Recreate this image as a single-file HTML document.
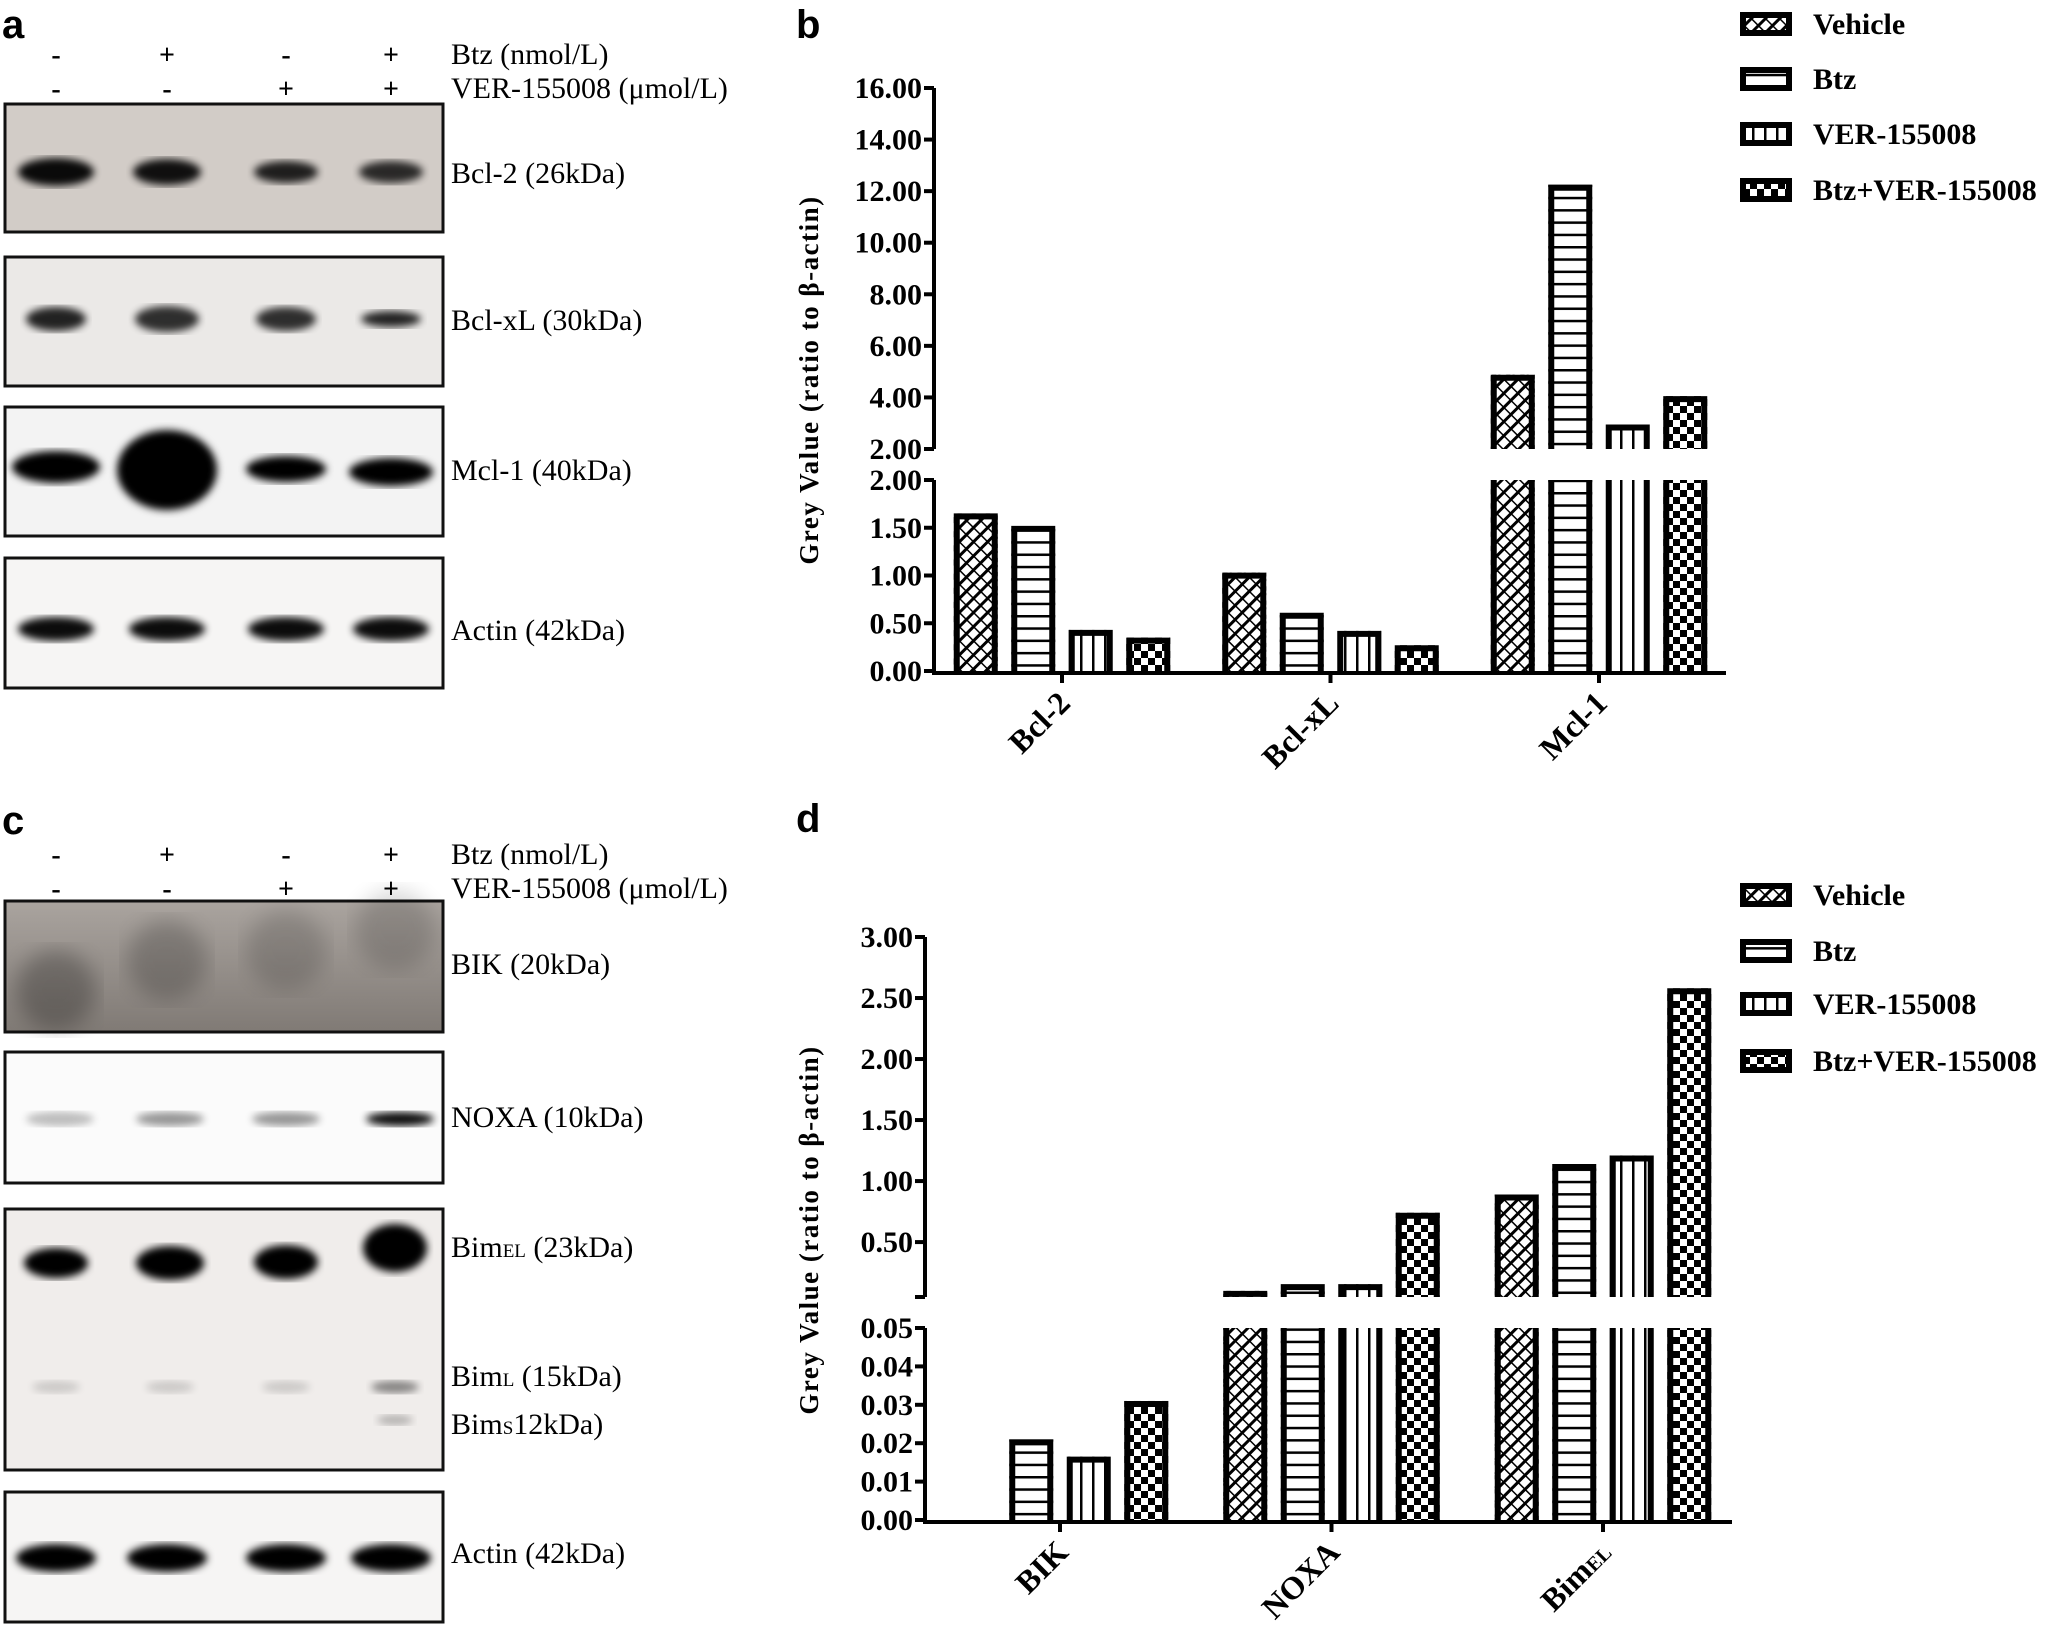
<!DOCTYPE html>
<html><head><meta charset="utf-8"><style>
html,body{margin:0;padding:0;background:#fff;}
svg{display:block;}
.ser{font-family:"Liberation Serif",serif;}
.sans{font-family:"Liberation Sans",sans-serif;}
</style></head><body>
<svg id="root" width="2053" height="1632" viewBox="0 0 2053 1632" xmlns="http://www.w3.org/2000/svg">
<defs>
<pattern id="pVeh" patternUnits="userSpaceOnUse" width="10" height="10" patternTransform="rotate(45)">
<rect width="10" height="10" fill="#fff"/><rect x="0" y="0" width="3" height="10" fill="#000"/><rect x="0" y="4" width="10" height="1.5" fill="#000"/></pattern>
<pattern id="pBtz" patternUnits="userSpaceOnUse" width="12" height="12.3"><rect width="12" height="12.3" fill="#fff"/><rect y="0" width="12" height="2.5" fill="#000"/></pattern>
<pattern id="pVer" patternUnits="userSpaceOnUse" width="12" height="12"><rect width="12" height="12" fill="#fff"/><rect x="0" width="2.5" height="12" fill="#000"/></pattern>
<pattern id="pCmb" patternUnits="userSpaceOnUse" width="14" height="14"><rect width="14" height="14" fill="#fff"/><rect width="7" height="7" fill="#000"/><rect x="7" y="7" width="7" height="7" fill="#000"/></pattern>
<filter id="blur3"><feGaussianBlur stdDeviation="4"/></filter>
<filter id="blur8"><feGaussianBlur stdDeviation="10"/></filter>
<linearGradient id="gBik" x1="0" y1="0" x2="0" y2="1"><stop offset="0" stop-color="#aaa49f"/><stop offset="1" stop-color="#807a75"/></linearGradient>
</defs>

<text class="sans" x="2" y="38" font-size="40" font-weight="bold">a</text>
<text class="sans" x="796" y="38" font-size="40" font-weight="bold">b</text>
<text class="sans" x="2" y="834" font-size="40" font-weight="bold">c</text>
<text class="sans" x="796" y="832" font-size="40" font-weight="bold">d</text>

<g id="blots"></g>
<g id="chartB"></g>
<g id="chartD"></g>
</svg>
<script>
const NS="http://www.w3.org/2000/svg";
// ---- Chart b data ----
const catsB=["Bcl-2","Bcl-xL","Mcl-1"];
const vehB=[1.65,1.03,4.88];
const btzB=[1.52,0.61,12.25];
const verB=[0.43,0.42,2.95];
const cmbB=[0.35,0.27,4.05];
const upTicksB=["16.00","14.00","12.00","10.00","8.00","6.00","4.00","2.00"];
const loTicksB=["0.00","0.50","1.00","1.50","2.00"];
// ---- Chart d data ----
const catsD=["BIK","NOXA","Bim"];
const vehD=[0,0.10,0.89];
const btzD=[0.021,0.155,1.14];
const verD=[0.0165,0.155,1.21];
const cmbD=[0.031,0.74,2.58];
const upTicksD=["3.00","2.50","2.00","1.50","1.00","0.50"];
const loTicksD=["0.00","0.01","0.02","0.03","0.04","0.05"];
const seriesNames=["Vehicle","Btz","VER-155008","Btz+VER-155008"];
const pats=["url(#pVeh)","url(#pBtz)","url(#pVer)","url(#pCmb)"];

function el(tag,attrs,parent){const e=document.createElementNS(NS,tag);for(const k in attrs)e.setAttribute(k,attrs[k]);parent.appendChild(e);return e;}

function drawChart(g,cfg,cats,series){
  const ax=cfg.axisX;
  const yLo=v=>cfg.loY0+(cfg.loY1-cfg.loY0)*(v/cfg.loMax);
  const yUp=v=>cfg.upY0+(cfg.upY1-cfg.upY0)*((v-cfg.upMin)/(cfg.upMax-cfg.upMin));
  const xCat=i=>cfg.catX0+i*cfg.catStep;
  series.forEach((vals,s)=>{
    vals.forEach((v,i)=>{
      if(v<=0)return;
      const cx=xCat(i)+(s-1.5)*cfg.pitch, w=cfg.barW, x=cx-w/2;
      const segs=[];
      if(v<=cfg.loMax) segs.push([yLo(v),cfg.loY0,true]);
      else { segs.push([cfg.loY1,cfg.loY0,false]); segs.push([yUp(v),cfg.upY0,true]); }
      segs.forEach(sg=>{
        const r=el('rect',{x:x,y:sg[0],width:w,height:sg[1]-sg[0],fill:pats[s]},g);
        
        
        let d='M'+(x+3)+','+sg[1]+'V'+(sg[0]+(sg[2]?3:0))+(sg[2]?'H'+(x+w-3):'M'+(x+w-3)+','+sg[0])+'V'+sg[1];
        const p=el('path',{d:d,fill:'none',stroke:'#000','stroke-width':6},g);
        
        
      });
    });
  });
  const a1=el('path',{d:`M${ax},${cfg.upY1}V${cfg.upY0}M${ax},${cfg.loY1}V${cfg.loY0+2}H${cfg.axisEnd}`,stroke:'#000','stroke-width':4,fill:'none'},g);
  
  
  cfg.upTicks.forEach(t=>{
    const y=yUp(parseFloat(t));
    el('line',{x1:ax-10,x2:ax,y1:y,y2:y,stroke:'#000','stroke-width':4},g);
    const tx=el('text',{x:ax-12,y:y+10,'text-anchor':'end','font-size':30,'font-weight':'bold',class:'ser'},g);
    tx.textContent=t;
    
    
  });
  el('line',{x1:ax-10,x2:ax,y1:cfg.upY0,y2:cfg.upY0,stroke:'#000','stroke-width':4},g);
  cfg.loTicks.forEach(t=>{
    const y=yLo(parseFloat(t));
    el('line',{x1:ax-10,x2:ax,y1:y,y2:y,stroke:'#000','stroke-width':4},g);
    const tx=el('text',{x:ax-12,y:y+10,'text-anchor':'end','font-size':30,'font-weight':'bold',class:'ser'},g);
    tx.textContent=t;
    
    
  });
  cats.forEach((c,i)=>{
    const x=xCat(i);
    el('line',{x1:x,x2:x,y1:cfg.loY0,y2:cfg.loY0+12,stroke:'#000','stroke-width':4},g);
    const tx=el('text',{x:x+10,y:cfg.loY0+34,'text-anchor':'end','font-size':32,'font-weight':'bold',class:'ser',transform:`rotate(-45 ${x+10} ${cfg.loY0+34})`},g);
    
    
    if(c==="Bim"){tx.textContent="Bim";const ts=el('tspan',{'font-size':20},tx);ts.textContent="EL";}
    else tx.textContent=c;
  });
  const yt=el('text',{x:0,y:0,'text-anchor':'middle','font-size':27,'font-weight':'bold',class:'ser','letter-spacing':'1.5',transform:`translate(818 ${cfg.titleY}) rotate(-90)`},g);
  yt.textContent="Grey Value (ratio to β-actin)";
  
  
  seriesNames.forEach((n,s)=>{
    const y=cfg.legY[s];
    const lg=el('g',{},g);
    
    
    el('rect',{x:1743,y:y-9,width:46,height:18,fill:pats[s],stroke:'#000','stroke-width':6},lg);
    const tx=el('text',{x:1813,y:y+10,'font-size':30,'font-weight':'bold',class:'ser'},lg);
    tx.textContent=n;
  });
}
drawChart(document.getElementById('chartB'),{axisX:934,axisEnd:1726,upY0:449,upY1:88,upMin:2,upMax:16,loY0:671,loY1:480,loMax:2,
  catX0:1062,catStep:268.5,pitch:57.5,barW:44,upTicks:upTicksB,loTicks:loTicksB,titleY:380,legY:[24,79,134,190]},catsB,[vehB,btzB,verB,cmbB]);
drawChart(document.getElementById('chartD'),{axisX:925,axisEnd:1732,upY0:1297,upY1:937,upMin:0.05,upMax:3,loY0:1520,loY1:1328,loMax:0.05,
  catX0:1060,catStep:271.5,pitch:57.5,barW:44,upTicks:upTicksD,loTicks:loTicksD,titleY:1230,legY:[895,951,1004,1061]},catsD,[vehD,btzD,verD,cmbD]);

// ---- Blots ----
const B=document.getElementById('blots');
const laneX=[56,167,286,391];
function hdr(y1,y2,sym1,sym2){
  laneX.forEach((x,i)=>{
    const t1=el('text',{x:x,y:y1,'text-anchor':'middle','font-size':28,'font-weight':'bold',class:'ser'},B);t1.textContent=sym1[i];
    
    
    const t2=el('text',{x:x,y:y2,'text-anchor':'middle','font-size':28,'font-weight':'bold',class:'ser'},B);t2.textContent=sym2[i];
    
    
  });
}
function lbl(x,y,txt){const t=el('text',{x:x,y:y,'font-size':30,class:'ser'},B);t.innerHTML=txt;
  
  return t;}
hdr(64,98,["-","+","-","+"],["-","-","+","+"]);
lbl(451,64,"Btz (nmol/L)");lbl(451,98,"VER-155008 (μmol/L)");
hdr(864,898,["-","+","-","+"],["-","-","+","+"]);
lbl(451,864,"Btz (nmol/L)");lbl(451,898,"VER-155008 (μmol/L)");

function box(y0,y1,fill,name){const r=el('rect',{x:5,y:y0,width:438,height:y1-y0,fill:fill,stroke:'#111','stroke-width':3},B);
  
  }
function band(x,y,rx,ry,op,f){el('ellipse',{cx:x,cy:y,rx:rx,ry:ry,fill:'#000',opacity:op,filter:f||'url(#blur3)'},B);}
box(104,232,'#d2ccc7','blot-bcl2');
[[56,38,14,0.95],[167,34,13,0.92],[286,32,11,0.85],[391,32,11,0.8]].forEach(b=>band(b[0],172,b[1],b[2],b[3]));
lbl(451,183,"Bcl-2 (26kDa)");
box(257,386,'#ebe9e7','blot-bclxl');
[[56,30,12,0.85],[167,32,13,0.8],[286,30,12,0.8],[391,30,8,0.85]].forEach(b=>band(b[0],319,b[1],b[2],b[3]));
lbl(451,330,"Bcl-xL (30kDa)");
box(407,536,'#f3f3f3','blot-mcl1');
band(56,467,44,16,1);band(167,470,50,40,1);band(286,469,40,13,1);band(391,472,42,14,1);
lbl(451,480,"Mcl-1 (40kDa)");
box(558,688,'#f6f5f4','blot-actin-a');
[56,167,286,391].forEach(x=>band(x,629,38,12,0.95));
lbl(451,640,"Actin (42kDa)");
box(901,1032,'url(#gBik)','blot-bik');
[[56,990,0.25],[167,960,0.2],[286,950,0.15],[395,930,0.15]].forEach(b=>band(b[0],b[1],40,40,b[2],'url(#blur8)'));
lbl(451,974,"BIK (20kDa)");
box(1052,1183,'#fbfbfb','blot-noxa');
[[60,0.25],[170,0.4],[286,0.4],[400,0.95]].forEach(b=>band(b[0],1119,34,7,b[1]));
lbl(451,1127,"NOXA (10kDa)");
box(1209,1470,'#f0edeb','blot-bim');
[[56,1263,32,15],[170,1263,34,17],[286,1262,32,17],[395,1248,32,24]].forEach(b=>band(b[0],b[1],b[2],b[3],1));
[[56,0.15],[170,0.15],[286,0.15],[395,0.45]].forEach(b=>band(b[0],1387,24,6,b[1]));
band(395,1420,18,5,0.25);
lbl(451,1257,"Bim<tspan font-size='19'>EL</tspan> (23kDa)");
lbl(451,1386,"Bim<tspan font-size='19'>L</tspan> (15kDa)");
lbl(451,1434,"Bim<tspan font-size='19'>S</tspan>12kDa)");
box(1492,1622,'#f6f5f4','blot-actin-c');
[56,167,286,391].forEach(x=>band(x,1558,40,14,1));
lbl(451,1563,"Actin (42kDa)");
</script>
</body></html>
